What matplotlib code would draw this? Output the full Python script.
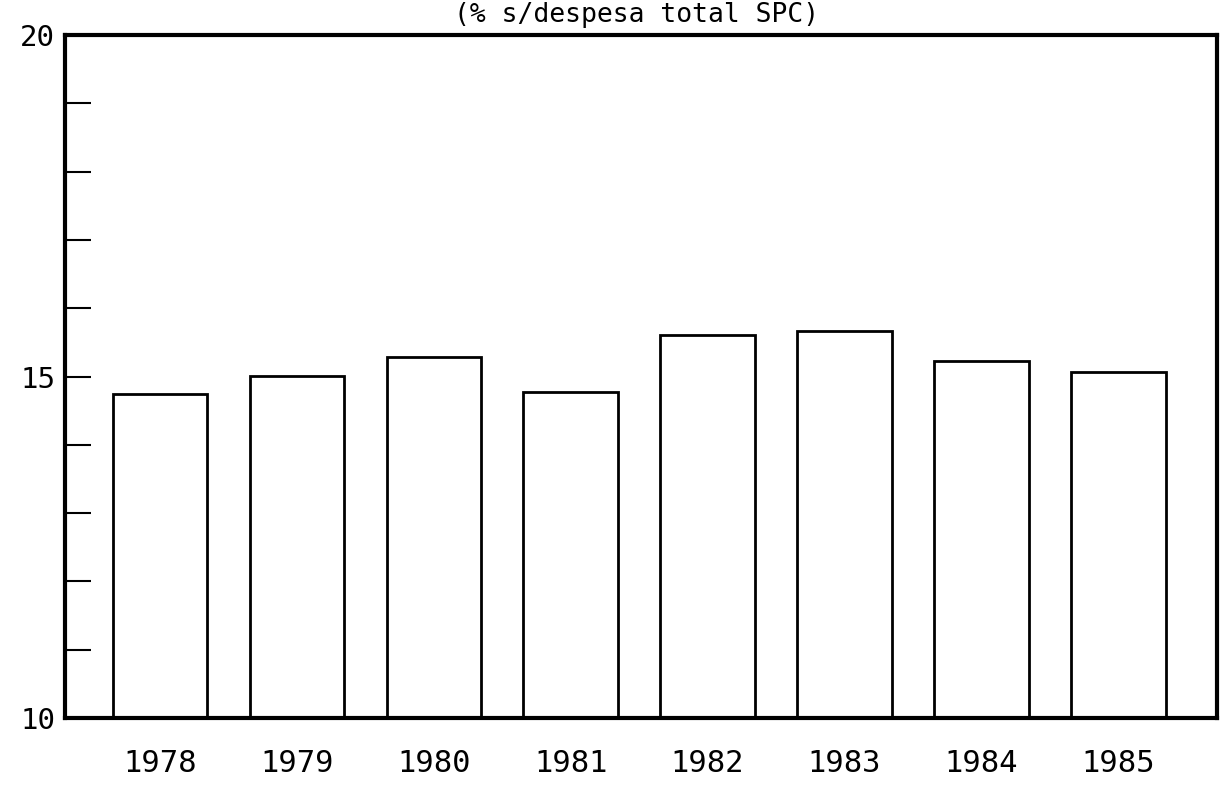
import matplotlib.pyplot as plt
from matplotlib.ticker import FixedLocator, FuncFormatter

years = ['1978', '1979', '1980', '1981', '1982', '1983', '1984', '1985']
values = [14.75, 15.01, 15.29, 14.77, 15.61, 15.67, 15.22, 15.07]
y_ticks = list(range(10, 21))
y_labels = [10, 15, 20]
title = '(% s/despesa total SPC)'

plt.rcParams['font.family'] = ['DejaVu Sans Mono']

fig = plt.figure(figsize=(12.2, 7.92), dpi=100)
W, H = 1220, 792
ax = fig.add_axes([65 / W, 1 - 718 / H, (1217 - 65) / W, (718 - 35) / H])

x = range(len(years))
ax.bar(x, [v - 10 for v in values], bottom=10, width=0.69,
       facecolor='white', edgecolor='black', linewidth=2)

ax.set_xlim(-0.693, 7.72)
ax.set_ylim(10, 20)

ax.yaxis.set_major_locator(FixedLocator(y_ticks))
ax.yaxis.set_major_formatter(FuncFormatter(lambda v, p: str(int(v)) if int(v) in y_labels else ''))
ax.tick_params(axis='y', direction='in', length=19, width=1.5, pad=7, labelsize=21)

ax.set_xticks(list(x))
ax.set_xticklabels(years)
ax.tick_params(axis='x', length=0, pad=22, labelsize=22)

for side in ['left', 'top', 'bottom', 'right']:
    ax.spines[side].set_linewidth(3)

fig.text(637 / W, 1 - 22 / H, title, ha='center', va='baseline', fontsize=19)

fig.savefig('out.png', dpi=100)
